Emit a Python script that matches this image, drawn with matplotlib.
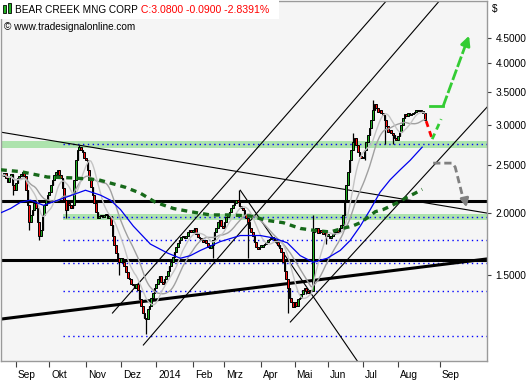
import numpy as np
import pandas as pd
import matplotlib
matplotlib.use('Agg')
import matplotlib.pyplot as plt
import matplotlib.transforms as mtransforms
from matplotlib.patches import Rectangle
from matplotlib.text import Annotation
from matplotlib.ticker import NullLocator

# daily closes, one per trading day (Aug 2013 - Aug 2014)
closes = [
    2.37, 2.40, 2.35, 2.31, 2.36, 2.39, 2.27, 2.22, 2.30, 2.35, 2.37, 2.39,
    2.42, 2.37, 2.22, 2.07, 1.92, 1.98, 2.03, 2.09, 2.04, 1.92, 1.80, 1.85,
    1.98, 2.07, 2.12, 2.17, 2.20, 2.27, 2.33, 2.38, 2.42, 2.44, 2.38, 2.35,
    2.24, 2.12, 2.03, 2.09, 2.07, 2.04, 2.07, 2.33, 2.55, 2.67, 2.71, 2.67,
    2.65, 2.58, 2.55, 2.44, 2.33, 2.25, 2.17, 2.09, 2.01, 1.95, 1.97, 1.98,
    1.96, 1.98, 1.99, 1.95, 1.97, 1.89, 1.80, 1.72, 1.66, 1.62, 1.59, 1.62,
    1.59, 1.56, 1.52, 1.48, 1.47, 1.44, 1.43, 1.41, 1.44, 1.40, 1.34, 1.30,
    1.26, 1.23, 1.22, 1.28, 1.30, 1.35, 1.38, 1.41, 1.44, 1.47, 1.49, 1.45,
    1.44, 1.47, 1.49, 1.53, 1.56, 1.59, 1.63, 1.67, 1.71, 1.74, 1.76, 1.79,
    1.80, 1.78, 1.80, 1.83, 1.85, 1.83, 1.85, 1.86, 1.81, 1.79, 1.78, 1.76,
    1.75, 1.76, 1.74, 1.71, 1.70, 1.72, 1.76, 1.83, 1.86, 1.92, 1.93, 1.88,
    1.86, 1.92, 1.96, 1.99, 2.01, 2.04, 2.07, 2.09, 2.12, 2.10, 2.06, 2.04,
    2.03, 1.99, 1.95, 1.92, 1.86, 1.83, 1.80, 1.75, 1.71, 1.69, 1.71, 1.71,
    1.72, 1.73, 1.75, 1.76, 1.77, 1.78, 1.78, 1.76, 1.75, 1.72, 1.70, 1.67,
    1.59, 1.53, 1.47, 1.41, 1.35, 1.32, 1.29, 1.32, 1.30, 1.34, 1.35, 1.37,
    1.40, 1.41, 1.39, 1.38, 1.40, 1.39, 1.83, 1.85, 1.86, 1.82, 1.85, 1.83,
    1.81, 1.83, 1.80, 1.80, 1.78, 1.80, 1.81, 1.83, 1.85, 1.83, 1.86, 1.89,
    1.98, 2.12, 2.27, 2.42, 2.55, 2.67, 2.77, 2.83, 2.74, 2.65, 2.60, 2.58,
    2.58, 2.67, 2.77, 2.87, 2.96, 3.07, 3.22, 3.31, 3.25, 3.19, 3.22, 3.17,
    3.14, 3.07, 2.99, 2.91, 2.93, 2.89, 2.87, 2.83, 2.80, 2.85, 2.91, 3.00,
    3.10, 3.16, 3.13, 3.17, 3.14, 3.16, 3.17, 3.19, 3.22, 3.20, 3.22, 3.20,
    3.17, 3.08,
]

# long shadows visible on the chart (bar, price)
wick_lows = [(6, 2.17), (16, 1.85), (22, 1.76), (38, 1.95), (70, 1.50), (86, 1.14),
             (126, 1.62), (147, 1.62), (171, 1.26), (182, 1.37), (194, 1.73),
             (217, 2.55), (229, 2.75), (234, 2.75)]
wick_highs = [(46, 2.74), (142, 2.22), (186, 1.98), (210, 2.89), (222, 3.37)]

month_starts = [8, 28, 50, 71, 92, 114, 133, 155, 175, 195, 216, 237, 262]
month_labels = ['Sep', 'Okt', 'Nov', 'Dez', '2014', 'Feb', 'Mrz', 'Apr', 'Mai',
                'Jun', 'Jul', 'Aug', 'Sep']
price_ticks = [1.5, 2.0, 2.5, 3.0, 3.5, 4.0, 4.5]

# slow moving average (blue)
blue_x = [-1, 4.8, 10.8, 16.8, 24.6, 36.5, 49.7, 58.7, 64.7, 70.7, 78.4, 88.6, 98.8,
          106.6, 112.6, 118.6, 130.5, 142.5, 154.5, 162.3, 170.7, 178.4, 186.2, 194.6,
          202.4, 208.4, 214.4, 220.4, 226.3, 232.3, 238.3, 244.3, 251.5]
blue_y = [2.00, 2.04, 2.10, 2.12, 2.07, 2.14, 2.22, 2.17, 2.12, 2.03, 1.88, 1.73, 1.66,
          1.62, 1.64, 1.68, 1.75, 1.80, 1.80, 1.78, 1.74, 1.64, 1.59, 1.62,
          1.68, 1.76, 1.88, 2.03, 2.20, 2.33, 2.44, 2.55, 2.71]

# long moving average (dark green dashes)
green_x = [-1, 10.8, 26.9, 42.5, 57.5, 67.7, 73.7, 82.6, 91.6, 102.4, 112.6, 124.6,
           136.5, 148.5, 158.7, 168.3, 178.4, 188.6, 196.4, 203.6, 209.6, 214.4, 219.2,
           223.4, 228.1, 233.5, 238.3, 242.5, 247.3, 251.5]
green_y = [2.44, 2.42, 2.36, 2.35, 2.33, 2.28, 2.25, 2.19, 2.10, 2.04, 2.01, 1.98,
           1.98, 1.97, 1.93, 1.91, 1.86, 1.84, 1.83, 1.86, 1.88, 1.91, 1.96,
           2.01, 2.03, 2.07, 2.11, 2.15, 2.19, 2.23]

x_min, x_max = -1.2, 290.4
y_min, y_max = 1.0066, 5.33

# drawn support / resistance
bands = [(2.70, 2.79, x_min), (1.934, 1.988, 36)]
dotted_levels = [2.75, 1.96, 1.763, 1.585, 1.392, 1.13]
flat_levels = [2.115, 1.61]
thick_slope = ((x_min, 1.222), (x_max, 1.615))
trend_lines = [
    ((x_min, 2.906), (x_max, 1.997)),
    ((65.9, 1.257), (229.9, 5.33)),
    ((84.4, 1.084), (261.7, 5.33)),
    ((172.5, 1.206), (x_max, 3.263)),
    ((142.5, 2.22), (212.6, 1.007)),
]

# projections after the last bar
red_path = ([253.9, 257.5], [3.058, 2.813])
green_small = ([257.5, 262.9], [2.813, 3.086])
green_up = ([256.3, 264.1, 280.2], [3.278, 3.278, 4.596])
gray_down = ([258.1, 269.5, 271.3, 276.0, 278.4], [2.517, 2.517, 2.471, 2.14, 2.025])

FONT = 'Liberation Sans'

fig = plt.figure(figsize=(5.3, 3.8), dpi=100)
fig.patch.set_facecolor('white')
ax = fig.add_axes([0.001, 0.05, 0.918, 0.947])
ax.set_facecolor('#f5f5f5')
ax.set_yscale('log')
ax.set_xlim(x_min, x_max)
ax.set_ylim(y_min, y_max)

for lo, hi, x0 in bands:
    ax.fill_between([x0, x_max], lo, hi, color='#ade3ad', lw=0, zorder=1)
for lv in dotted_levels:
    ax.plot([36, x_max], [lv, lv], color='#0000ff', lw=1.0, ls=(0, (1, 2.5)), zorder=2)
for lv in flat_levels:
    ax.plot([x_min, x_max], [lv, lv], color='black', lw=2.2, zorder=2)
ax.plot(*zip(*thick_slope), color='black', lw=2.2, zorder=2)
for p0, p1 in trend_lines:
    ax.plot([p0[0], p1[0]], [p0[1], p1[1]], color='black', lw=0.8, zorder=2)

# candles
c = np.array(closes)
o = np.concatenate([[c[0]], c[:-1]])
x = np.arange(len(c))
hi = np.maximum(o, c)
lo = np.minimum(o, c)
for i, v in wick_lows:
    lo[i] = v
for i, v in wick_highs:
    hi[i] = v
ax.vlines(x, lo, hi, color='black', lw=0.9, zorder=3)
body_lo = np.minimum(o, c)
body_h = np.maximum(np.abs(c - o), 0.01)
colors = np.where(c >= o, '#1fb01f', '#ff1010')
ax.bar(x, body_h, bottom=body_lo, width=1.0, color=colors, edgecolor='black',
       linewidth=0.7, zorder=3)

# moving averages
s = pd.Series(closes)
ax.plot(x, s.rolling(20, min_periods=1).mean(), color='#a0a0a0', lw=1.0, zorder=4)
ax.plot(x, s.rolling(10, min_periods=1).mean(), color='#c4c4c4', lw=1.0, zorder=4)
ax.plot(blue_x, blue_y, color='#0000ee', lw=0.9, zorder=4)
ax.plot(green_x, green_y, color='#17691a', lw=2.4, ls=(0, (1.8, 1.5)), zorder=4)

# projections
ax.plot(*red_path, color='#ff0000', lw=2.0, ls=(0, (2.2, 1.6)), zorder=5)
ax.plot(*green_small, color='#33cc33', lw=2.0, ls=(0, (2.2, 1.6)), zorder=5)
ax.plot(green_up[0][:2], green_up[1][:2], color='#33cc33', lw=2.0, zorder=5)
ax.plot([green_up[0][1], 277.5], [green_up[1][1], 4.35], color='#33cc33', lw=2.0,
        ls=(0, (4, 1)), zorder=5)
ax.annotate('', xy=(green_up[0][2], green_up[1][2]), xytext=(277.0, 4.3),
            arrowprops=dict(arrowstyle='-|>', color='#33cc33', lw=2.0,
                            mutation_scale=14), zorder=5)
ax.plot(gray_down[0][:-1], gray_down[1][:-1], color='#808080', lw=2.0,
        ls=(0, (2.6, 1.4)), zorder=5)
ax.annotate('', xy=(gray_down[0][-1], gray_down[1][-1]), xytext=(276.6, 2.16),
            arrowprops=dict(arrowstyle='-|>', color='#808080', lw=2.0,
                            mutation_scale=12), zorder=5)

# axes
ax.yaxis.tick_right()
ax.set_yticks(price_ticks)
ax.set_yticklabels(['%.4f' % v for v in price_ticks], fontsize=7.3, family=FONT)
ax.yaxis.set_minor_locator(NullLocator())
ax.set_xticks(month_starts)
ax.set_xticklabels(month_labels, fontsize=7.3, family=FONT, ha='left')
ax.tick_params(axis='x', direction='out', length=4, pad=2.5, color='#404040')
ax.tick_params(axis='y', direction='out', length=3, pad=3, color='#404040')
shift = mtransforms.ScaledTranslation(0.02, 0, fig.dpi_scale_trans)
for lbl in ax.get_xticklabels():
    lbl.set_transform(lbl.get_transform() + shift)
for sp in ax.spines.values():
    sp.set_color('#9a9a9a')
    sp.set_linewidth(1.0)

# header
fig.add_artist(Rectangle((0, 1 - 19 / 380), 279 / 530, 19 / 380,
                         transform=fig.transFigure, fc='white', ec='none', zorder=5))
for x0, y0, h in [(3, 5, 8), (8, 3, 10)]:
    fig.add_artist(Rectangle((x0 / 530, 1 - (y0 + h) / 380), 3 / 530, h / 380,
                             transform=fig.transFigure, fc='#22b322', ec='black',
                             lw=0.6, zorder=6))
t1 = fig.text(15 / 530, 1 - 10 / 380, 'BEAR CREEK MNG CORP', fontsize=7.2,
              family=FONT, va='center', ha='left', zorder=7)
quote = Annotation(' C:3.0800 -0.0900 -2.8391%', xy=(1, 0.5), xycoords=t1,
                   va='center', ha='left', color='#ff0000', fontsize=7.6,
                   family=FONT, annotation_clip=False)
quote.set_zorder(7)
fig.add_artist(quote)
fig.text(4 / 530, 1 - 27 / 380, '\u00a9 www.tradesignalonline.com', fontsize=7.2,
         family=FONT, va='center', ha='left', zorder=7)
fig.text(492 / 530, 1 - 9 / 380, '$', fontsize=7.3, family=FONT, va='center',
         ha='left')

fig.savefig('out.png', dpi=100)
